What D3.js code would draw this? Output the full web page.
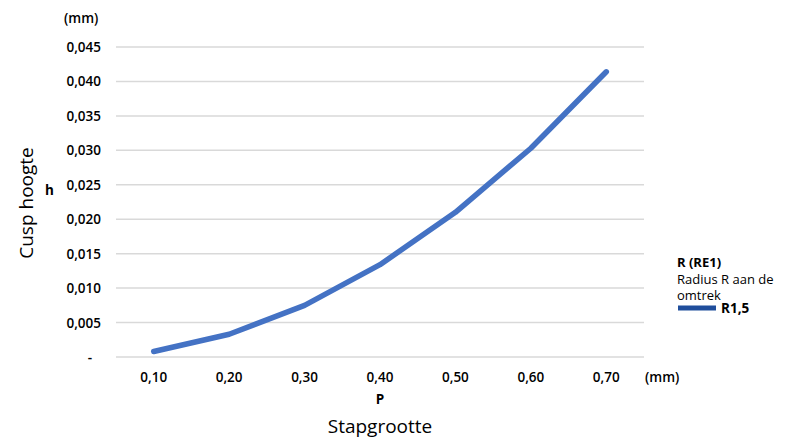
<!DOCTYPE html>
<html>
<head>
<meta charset="utf-8">
<script src="https://cdn.jsdelivr.net/npm/d3@7"></script>
<style>
  body { margin: 0; background: #fff; }
  text { font-family: "Open Sans", "Noto Sans", sans-serif; fill: #000; }
</style>
</head>
<body>
<svg id="chart"></svg>
<script>
const categories = ["0,10", "0,20", "0,30", "0,40", "0,50", "0,60", "0,70"];
const cuspValues = [0.0008, 0.0033, 0.0075, 0.0134, 0.0210, 0.0303, 0.0414];
const yTicks = [0, 0.005, 0.010, 0.015, 0.020, 0.025, 0.030, 0.035, 0.040, 0.045];
const seriesName = "R1,5";

const W = 797, H = 439;
const margin = { top: 47, right: 153, bottom: 82, left: 116 };
const width = W - margin.left - margin.right,
  height = H - margin.top - margin.bottom;

const root = d3.select("#chart").attr("width", W).attr("height", H);
const svg = root.append("g").attr("transform", `translate(${margin.left},${margin.top})`);

const x = d3.scalePoint().domain(categories).range([0, width]).padding(0.5);
const y = d3.scaleLinear().domain([0, 0.045]).range([height, 0]);

// gridlines
svg.selectAll(".grid")
  .data(yTicks)
  .enter()
  .append("line")
  .attr("x1", 0)
  .attr("x2", width)
  .attr("y1", (d) => y(d))
  .attr("y2", (d) => y(d))
  .attr("stroke", "#d9d9d9")
  .attr("stroke-width", 1.5);

// y tick labels
const fmtY = (d) => (d === 0 ? "-" : d3.format(".3f")(d).replace(".", ","));
svg.selectAll(".ylab")
  .data(yTicks)
  .enter()
  .append("text")
  .attr("x", (d) => (d === 0 ? -24 : -15))
  .attr("y", (d) => y(d) + 5)
  .attr("text-anchor", "end")
  .style("font-size", "13.5px")
  .style("font-weight", 600)
  .text(fmtY);

// x tick labels
svg.selectAll(".xlab")
  .data(categories)
  .enter()
  .append("text")
  .attr("x", (d) => x(d))
  .attr("y", height + 25)
  .attr("text-anchor", "middle")
  .style("font-size", "13.5px")
  .style("font-weight", 600)
  .text((d) => d);

// line
const line = d3.line()
  .x((d, i) => x(categories[i]))
  .y((d) => y(d));

svg.append("path")
  .datum(cuspValues)
  .attr("d", line)
  .attr("fill", "none")
  .attr("stroke", "#4472c4")
  .attr("stroke-width", 5.5)
  .attr("stroke-linecap", "round")
  .attr("stroke-linejoin", "round");

// unit labels
root.append("text").attr("x", 64).attr("y", 23)
  .style("font-size", "13.5px").style("font-weight", 600).text("(mm)");
root.append("text").attr("x", 645).attr("y", 382)
  .style("font-size", "13.5px").style("font-weight", 600).text("(mm)");

// axis titles
root.append("text").attr("x", 45).attr("y", 195)
  .style("font-size", "13.5px").style("font-weight", 700).text("h");
root.append("text")
  .attr("transform", "translate(33,203) rotate(-90)")
  .attr("text-anchor", "middle")
  .style("font-size", "19px")
  .text("Cusp hoogte");
root.append("text").attr("x", 380).attr("y", 404)
  .attr("text-anchor", "middle")
  .style("font-size", "13.5px").style("font-weight", 700).text("P");
root.append("text").attr("x", 380).attr("y", 433)
  .attr("text-anchor", "middle")
  .style("font-size", "19px").text("Stapgrootte");

// legend
const lg = root.append("g").attr("transform", "translate(677,0)");
lg.append("text").attr("x", 0).attr("y", 267)
  .style("font-size", "13px").style("font-weight", 700).text("R (RE1)");
lg.append("text").attr("x", 0).attr("y", 284)
  .style("font-size", "13px").text("Radius R aan de");
lg.append("text").attr("x", 0).attr("y", 300)
  .style("font-size", "13px").text("omtrek");
lg.append("line").attr("x1", 1).attr("x2", 39).attr("y1", 308).attr("y2", 308)
  .attr("stroke", "#1f4e9c").attr("stroke-width", 5);
lg.append("text").attr("x", 44).attr("y", 313)
  .style("font-size", "13.5px").style("font-weight", 700).text(seriesName);
</script>
</body>
</html>
